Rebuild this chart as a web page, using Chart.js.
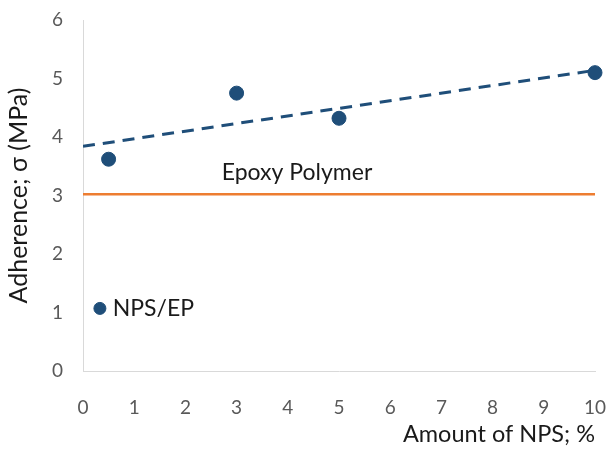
<!DOCTYPE html>
<html><head><meta charset="utf-8">
<script src="https://cdn.jsdelivr.net/npm/chart.js@4"></script>
<style>html,body{margin:0;padding:0;background:#fff}#wrap{width:607px;height:453px}</style>
</head><body><div id="wrap"><canvas id="c" width="607" height="453"></canvas></div>
<script>
const npsAmount = [0.5, 3, 5, 10];
const adherence = [3.62, 4.75, 4.32, 5.1];
const trendX = [0, 10];
const trendY = [3.84, 5.14];
const epoxyX = [0, 10];
const epoxyY = [3.02, 3.02];
const legendPoint = [0.33, 1.07];
const xTicks = [0,1,2,3,4,5,6,7,8,9,10];
const yTicks = [0,1,2,3,4,5,6];
const labels = [
  {text: 'Epoxy Polymer', x: 4.18, y: 3.4, align: 'center'},
  {text: 'NPS/EP', x: 0.58, y: 1.07, align: 'left'}
];

const blue = '#1f4e79', orange = '#ed7d31';
const FONT = 'Lato, "Open Sans", sans-serif';

const textPlugin = {
  id: 'texts',
  afterDatasetsDraw(chart) {
    const {ctx, scales} = chart;
    ctx.save();
    ctx.font = '23px ' + FONT;
    ctx.fillStyle = '#1a1a1a';
    ctx.textBaseline = 'middle';
    labels.forEach(l => {
      ctx.textAlign = l.align;
      ctx.fillText(l.text, scales.x.getPixelForValue(l.x), scales.y.getPixelForValue(l.y));
    });
    ctx.restore();
  }
};

new Chart(document.getElementById('c'), {
  type: 'scatter',
  data: {
    datasets: [
      {data: npsAmount.map((x,i)=>({x, y: adherence[i]})), backgroundColor: blue, borderColor: blue, pointRadius: 7, pointHoverRadius: 7, clip: false, order: 0},
      {type: 'line', data: trendX.map((x,i)=>({x, y: trendY[i]})), borderColor: blue, borderWidth: 3, borderDash: [12, 8], pointRadius: 0, fill: false, order: 1},
      {type: 'line', data: epoxyX.map((x,i)=>({x, y: epoxyY[i]})), borderColor: orange, borderWidth: 2.5, pointRadius: 0, fill: false, order: 2},
      {data: [{x: legendPoint[0], y: legendPoint[1]}], backgroundColor: blue, borderColor: blue, pointRadius: 6, order: 0}
    ]
  },
  options: {
    responsive: false,
    animation: false,
    layout: {padding: {top: 20, right: 12, left: 0, bottom: 0}},
    plugins: {legend: {display: false}, tooltip: {enabled: false}},
    scales: {
      x: {
        type: 'linear', min: 0, max: 10,
        afterBuildTicks: s => { s.ticks = xTicks.map(v => ({value: v})); },
        afterFit: s => { s.height = 82; s.paddingRight = 0; s.paddingLeft = 0; },
        grid: {display: false, drawTicks: false},
        border: {color: '#d9d9d9', width: 1},
        ticks: {padding: 25, color: '#595959', font: {size: 19, family: FONT}},
        title: {display: true, text: 'Amount of NPS; %', align: 'end', color: '#1a1a1a', font: {size: 23.5, family: FONT}, padding: {top: 0}}
      },
      y: {
        type: 'linear', min: 0, max: 6,
        afterBuildTicks: s => { s.ticks = yTicks.map(v => ({value: v})); },
        afterFit: s => { s.width = 83; s.paddingTop = 0; s.paddingBottom = 0; },
        grid: {display: false, drawTicks: false},
        border: {color: '#d9d9d9', width: 1},
        ticks: {padding: 20, color: '#595959', font: {size: 19, family: FONT}},
        title: {display: true, text: 'Adherence; σ (MPa)', color: '#1a1a1a', font: {size: 25, family: FONT}, padding: {top: 4}}
      }
    }
  },
  plugins: [textPlugin]
});
</script></body></html>
